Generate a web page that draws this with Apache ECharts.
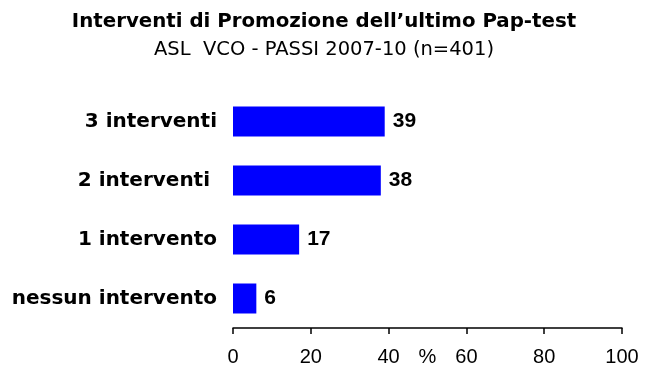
<!DOCTYPE html>
<html>
<head>
<meta charset="utf-8">
<script src="https://cdn.jsdelivr.net/npm/echarts@6/dist/echarts.min.js"></script>
<style>
  html, body { margin: 0; padding: 0; background: #fff; }
  #chart { width: 648px; height: 367px; }
</style>
</head>
<body>
<div id="chart"></div>
<script>
// Interventi di promozione dell'ultimo Pap-test (% sul totale)
const categories = ['3 interventi', '2 interventi ', '1 intervento', 'nessun intervento'];
const values = [39, 38, 17, 6];
const xTicks = { min: 0, max: 100, interval: 20 };

const chart = echarts.init(document.getElementById('chart'), null, { renderer: 'canvas' });

chart.setOption({
  animation: false,
  backgroundColor: '#ffffff',
  title: [
    {
      text: 'Interventi di Promozione dell\u2019ultimo Pap-test',
      left: 'center',
      top: 7,
      textStyle: { fontFamily: 'DejaVu Sans', fontWeight: 'bold', fontSize: 19.8, color: '#000' }
    },
    {
      text: 'ASL  VCO - PASSI 2007-10 (n=401)',
      left: 'center',
      top: 35,
      textStyle: { fontFamily: 'DejaVu Sans', fontWeight: 'normal', fontSize: 19.5, color: '#000' }
    }
  ],
  grid: { left: 233, width: 389, top: 92, height: 236, containLabel: false, outerBoundsMode: 'none' },
  xAxis: {
    type: 'value',
    min: xTicks.min,
    max: xTicks.max,
    interval: xTicks.interval,
    name: '%',
    nameLocation: 'middle',
    nameGap: 19,
    nameMoveOverlap: false,
    nameTextStyle: { fontFamily: 'Liberation Sans', fontSize: 20, color: '#000', verticalAlign: 'top' },
    axisLine: { show: true, lineStyle: { color: '#000', width: 1.5 } },
    axisTick: { show: true, inside: false, length: 6, lineStyle: { color: '#000', width: 1.5 } },
    axisLabel: { margin: 19, fontFamily: 'Liberation Sans', fontSize: 20, color: '#000' },
    splitLine: { show: false }
  },
  yAxis: {
    type: 'category',
    data: categories,
    inverse: true,
    axisLine: { show: false },
    axisTick: { show: false },
    axisLabel: { margin: 16, fontFamily: 'DejaVu Sans', fontWeight: 'bold', fontSize: 20, color: '#000' }
  },
  series: [{
    type: 'bar',
    data: values,
    barWidth: 30,
    itemStyle: { color: '#0000ff' },
    label: {
      show: true,
      position: 'right',
      distance: 8,
      fontFamily: 'Liberation Sans',
      fontWeight: 'bold',
      fontSize: 21,
      color: '#000'
    }
  }]
});
</script>
</body>
</html>
